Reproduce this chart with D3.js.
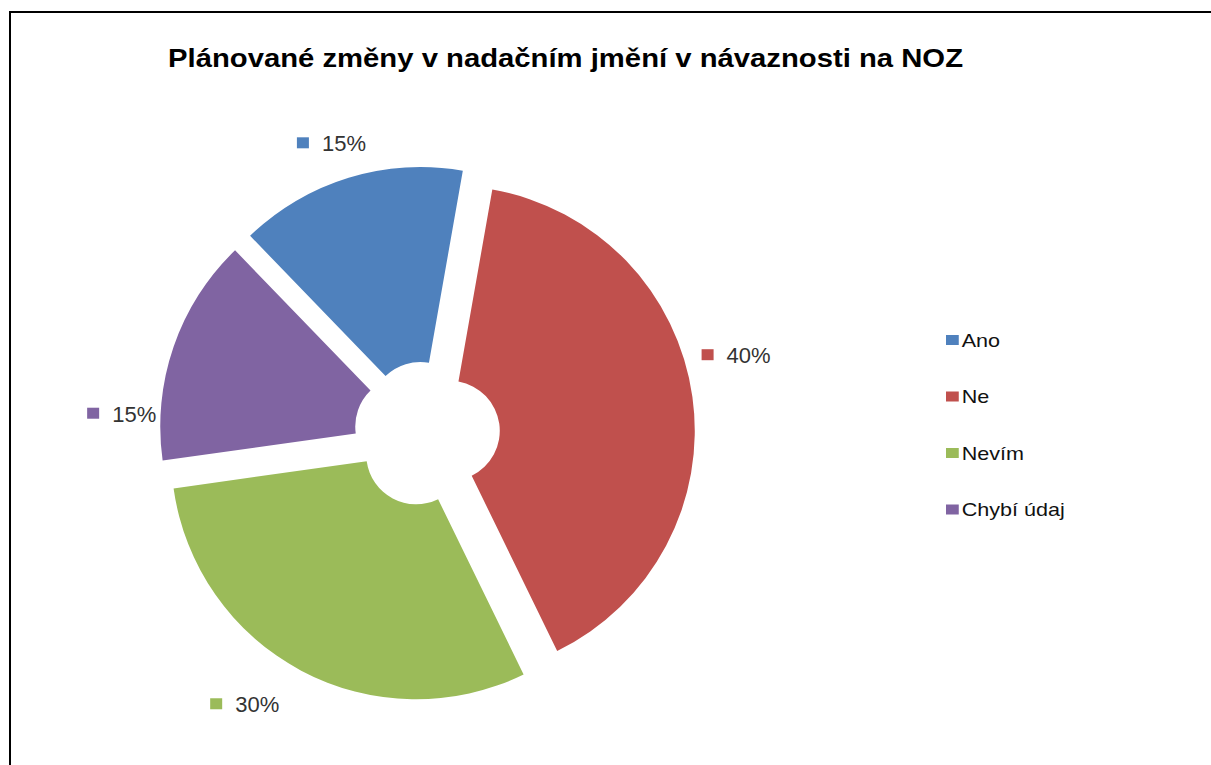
<!DOCTYPE html>
<html>
<head>
<meta charset="utf-8">
<script src="https://cdn.jsdelivr.net/npm/d3@7"></script>
<style>
  body { margin: 0; background: #fff; }
  text { font-family: Arial, "Liberation Sans", sans-serif; }
</style>
</head>
<body>
<svg id="chart"></svg>
<script>
// data
let categories = ["Ano", "Ne", "Nevím", "Chybí údaj"];
let shares = [15, 40, 30, 15];
let percentLabels = ["15%", "40%", "30%", "15%"];
let colours = ["#4F81BD", "#C0504D", "#9BBB59", "#8064A2"];
let title = "Plánované změny v nadačním jmění v návaznosti na NOZ";

// layout
let w = 1211, h = 765;
let cx = 427, cy = 434;
let outerR = 245, innerR = 50, explode = 23;
let rad = Math.PI / 180;
// label tweaks (angle shift from slice middle in degrees, distance from centre)
let labelShift = [-1.2, -6.3, 6, -15.2];
let labelDist = [306, 319, 326, 306];

function drawChart() {
    let svg = d3.select("#chart")
        .attr("width", w)
        .attr("height", h);

    svg.append("rect")
        .attr("x", 0).attr("y", 0)
        .attr("width", w).attr("height", h)
        .style("fill", "#fff");

    // frame, right and bottom edge are cut off in the picture
    svg.append("path")
        .attr("d", `M10,${h + 5} L10,12 L${w + 5},12`)
        .style("fill", "none")
        .style("stroke", "#000")
        .style("stroke-width", 2);

    svg.append("text")
        .attr("x", 168)
        .attr("y", 67)
        .attr("textLength", 795)
        .attr("lengthAdjust", "spacingAndGlyphs")
        .style("font-size", "26px")
        .style("font-weight", "bold")
        .style("fill", "#000")
        .text(title);

    let pie = d3.pie()
        .sort(null)
        .startAngle(-44 * rad)
        .endAngle(316 * rad);

    let arcs = pie(shares);

    let arc = d3.arc()
        .innerRadius(innerR)
        .outerRadius(outerR);

    let g = svg.append("g")
        .attr("transform", `translate(${cx},${cy})`);

    // exploded slices
    g.selectAll("path.slice")
        .data(arcs)
        .enter()
        .append("path")
        .attr("class", "slice")
        .attr("d", arc)
        .attr("transform", d => {
            let mid = (d.startAngle + d.endAngle) / 2;
            return `translate(${Math.sin(mid) * explode},${-Math.cos(mid) * explode})`;
        })
        .style("fill", (d, i) => colours[i]);

    // data labels with small colour key
    let labels = g.selectAll("g.lbl")
        .data(arcs)
        .enter()
        .append("g")
        .attr("class", "lbl");

    labels.each(function(d, i) {
        let lg = d3.select(this);
        let mid = (d.startAngle + d.endAngle) / 2 + labelShift[i] * rad;
        let px = Math.sin(mid) * labelDist[i];
        let py = -Math.cos(mid) * labelDist[i];
        let t = lg.append("text")
            .style("font-size", "22px")
            .style("fill", "#333")
            .text(percentLabels[i]);
        let tw = t.node().getComputedTextLength();
        let boxW = 25 + tw;
        let left = px - boxW / 2;
        lg.append("rect")
            .attr("x", left)
            .attr("y", py - 6)
            .attr("width", 12)
            .attr("height", 11)
            .style("fill", colours[i]);
        t.attr("x", left + 25).attr("y", py + 8);
    });

    // legend
    let legend = svg.append("g")
        .attr("transform", "translate(946,0) scale(1.16,1)");

    let items = legend.selectAll("g")
        .data(categories)
        .enter()
        .append("g")
        .attr("transform", (d, i) => `translate(0,${340 + i * 56.5})`);

    items.append("rect")
        .attr("x", 0)
        .attr("y", -5)
        .attr("width", 11)
        .attr("height", 10)
        .style("fill", (d, i) => colours[i]);

    items.append("text")
        .attr("x", 13.5)
        .attr("y", 6.5)
        .style("font-size", "18.6px")
        .style("fill", "#111")
        .text(d => d);
}

window.onload = function() {
    drawChart();
}
</script>
</body>
</html>
